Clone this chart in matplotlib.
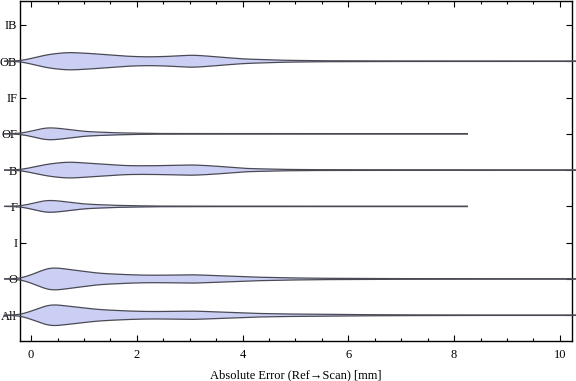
import numpy as np
import matplotlib
matplotlib.use("Agg")
from matplotlib import pyplot as plt
from matplotlib.ticker import MultipleLocator

# categories from bottom to top
categories = ["All", "O", "I", "F", "B", "OF", "IF", "OB", "IB"]

# estimated density profile (half width, px-like units) at sample points of the error axis
grid_wide = [-0.5, -0.2, 0.0, 0.3, 0.7, 1.2, 1.8, 2.2, 2.6, 3.05, 3.5, 4.0, 4.75, 5.4, 6.5, 8.0, 10.6]
ob_width = [0.0, 0.3, 2.7, 6.7, 9.0, 7.5, 5.0, 4.3, 4.8, 6.3, 4.5, 2.3, 1.0, 0.5, 0.3, 0.2, 0.2]
b_width = [0.0, 0.3, 2.5, 6.0, 8.3, 6.5, 4.4, 4.3, 4.6, 5.3, 4.0, 1.7, 0.7, 0.4, 0.3, 0.2, 0.2]

grid_narrow = [-0.5, -0.2, 0.0, 0.3, 0.7, 1.0, 1.6, 2.35, 4.0, 6.0, 8.25]
of_width = [0.0, 0.3, 2.5, 6.7, 4.5, 2.3, 1.0, 0.3, 0.2, 0.2, 0.2]
f_width = [0.0, 0.3, 2.5, 6.7, 4.4, 2.3, 1.0, 0.3, 0.2, 0.2, 0.2]

grid_all = [-0.5, -0.2, 0.0, 0.36, 0.8, 1.27, 1.8, 2.2, 2.6, 3.05, 3.5, 4.1, 4.75, 5.4, 6.5, 8.0, 10.6]
o_width = [0.0, 0.4, 4.0, 12.0, 9.0, 5.7, 4.3, 3.7, 3.8, 4.3, 3.3, 2.0, 1.2, 0.7, 0.4, 0.2, 0.2]
all_width = [0.0, 0.4, 4.0, 11.3, 8.5, 5.7, 4.3, 3.7, 3.8, 4.3, 3.3, 2.0, 1.3, 1.0, 0.5, 0.2, 0.2]

profiles = {
    "All": (grid_all, all_width),
    "O": (grid_all, o_width),
    "F": (grid_narrow, f_width),
    "B": (grid_wide, b_width),
    "OF": (grid_narrow, of_width),
    "OB": (grid_wide, ob_width),
}

px_per_unit = 36.4  # vertical pixels per category step


def smooth_profile(xs, ws, n=800, sigma=0.12):
    xf = np.linspace(xs[0], xs[-1], n)
    wf = np.interp(xf, xs, ws)
    dx = xf[1] - xf[0]
    k = np.arange(-int(4 * sigma / dx), int(4 * sigma / dx) + 1) * dx
    kern = np.exp(-0.5 * (k / sigma) ** 2)
    kern /= kern.sum()
    pad = len(k) // 2
    wp = np.concatenate([np.full(pad, wf[0]), wf, np.full(pad, wf[-1])])
    ws_s = np.convolve(wp, kern, mode="valid")
    return xf, ws_s


fig = plt.figure(figsize=(5.76, 3.81), dpi=100)
ax = fig.add_axes([20 / 576, 40 / 381, 552 / 576, 340 / 381])

fill_col = "#cbcff4"
edge_col = "#4a4a55"

for i, cat in enumerate(categories):
    y0 = i + 1
    if cat not in profiles:
        continue
    xs, ws = profiles[cat]
    xf, wf = smooth_profile(xs, ws)
    h = wf / px_per_unit
    ax.fill_between(xf, y0 - h, y0 + h, color=fill_col, lw=0, clip_on=False, zorder=2)
    ax.plot(xf, y0 + h, color=edge_col, lw=0.9, clip_on=False, zorder=3)
    ax.plot(xf, y0 - h, color=edge_col, lw=0.9, clip_on=False, zorder=3)

ax.set_xlim(-0.21, 10.23)
ax.set_ylim(0.29, 9.66)
ax.set_yticks(range(1, len(categories) + 1))
ax.set_yticklabels(categories)
ax.xaxis.set_major_locator(MultipleLocator(2))
ax.xaxis.set_minor_locator(MultipleLocator(0.5))
ax.tick_params(axis="both", which="both", direction="in", top=True, right=True,
               labelsize=9, width=0.8, color="black")
ax.tick_params(axis="x", which="major", length=4, pad=6)
ax.tick_params(axis="x", which="minor", length=2.5)
ax.tick_params(axis="y", which="major", length=4, pad=2)
for lab in ax.get_xticklabels() + ax.get_yticklabels():
    lab.set_fontfamily("Liberation Serif")
for sp in ax.spines.values():
    sp.set_linewidth(1.0)

ax.set_xlabel("Absolute Error (Ref\u2192Scan) [mm]", fontsize=9,
              fontfamily=["Liberation Serif", "DejaVu Serif"], labelpad=6)

fig.savefig("out.png", dpi=100)
